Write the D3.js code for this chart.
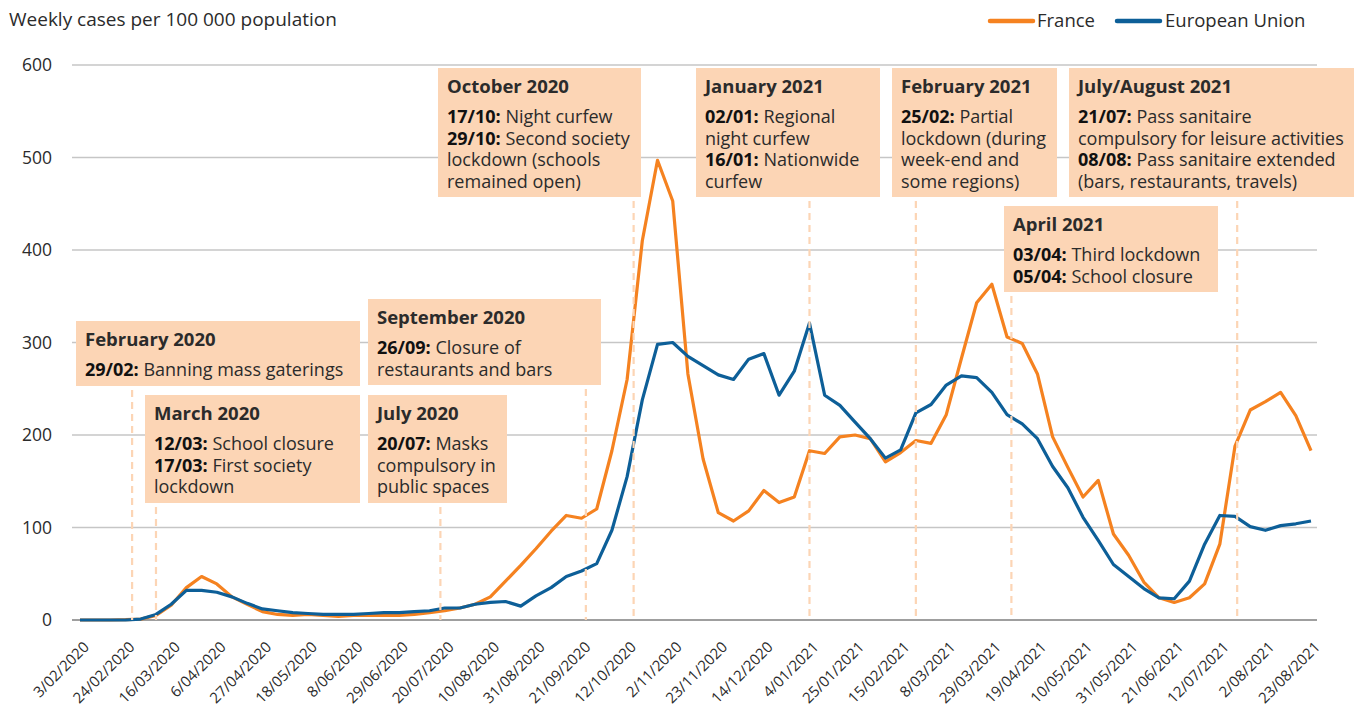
<!DOCTYPE html>
<html>
<head>
<meta charset="utf-8">
<script src="https://cdn.jsdelivr.net/npm/d3@7"></script>
<style>
  html, body { margin: 0; padding: 0; background: #fff; }
  svg { display: block; }
  text { font-family: "Open Sans", "Noto Sans", sans-serif; fill: #2b2b2b; }
</style>
</head>
<body>
<svg id="chart" width="1358" height="715"></svg>
<script>
// ---------------- DATA ----------------
const tickLabels = ["3/02/2020","24/02/2020","16/03/2020","6/04/2020","27/04/2020","18/05/2020",
  "8/06/2020","29/06/2020","20/07/2020","10/08/2020","31/08/2020","21/09/2020","12/10/2020",
  "2/11/2020","23/11/2020","14/12/2020","4/01/2021","25/01/2021","15/02/2021","8/03/2021",
  "29/03/2021","19/04/2021","10/05/2021","31/05/2021","21/06/2021","12/07/2021","2/08/2021","23/08/2021"];

const france = [0,0,0,0.3,1,5,16,35,47,39,25,17,9,6,5,6,5,4,5,5,5,5,6,8,10,13,17,25,42,59,
  77,96,113,110,120,183,260,410,497,453,266,174,116,107,118,140,127,133,183,180,198,200,196,171,181,194,
  191,222,283,343,363,306,299,266,198,165,133,151,93,70,41,24,19,24,39,82,188,227,236,246,221,183];

const eu = [0,0,0,0,1,6,17,32,32,30,25,18,12,10,8,7,6,6,6,7,8,8,9,10,13,13,17,19,20,15,
  26,35,47,53,61,97,155,238,298,300,285,275,265,260,282,288,243,269,321,243,232,214,196,175,184,224,
  233,254,264,262,246,222,212,196,166,143,111,86,60,47,34,24,23,42,82,113,112,101,97,102,104,107];

const yTicks = [0,100,200,300,400,500,600];
const seriesNames = ["France","European Union"];
const seriesColors = ["#f58220","#0d5f98"];

// positions of the dashed event markers
const eventLineDates = ["2020-02-27","2020-03-09","2020-07-18","2020-09-23","2020-10-15",
  "2021-01-04","2021-02-22","2021-04-07","2021-07-20"];

// annotation texts
const annotations = [
  {title:"February 2020", lines:[["29/02:"," Banning mass gaterings"]]},
  {title:"March 2020", lines:[["12/03:"," School closure"],["17/03:"," First society"],["","lockdown"]]},
  {title:"July 2020", lines:[["20/07:"," Masks"],["","compulsory in"],["","public spaces"]]},
  {title:"September 2020", lines:[["26/09:"," Closure of"],["","restaurants and bars"]]},
  {title:"October 2020", lines:[["17/10:"," Night curfew"],["29/10:"," Second society"],["","lockdown (schools"],["","remained open)"]]},
  {title:"January 2021", lines:[["02/01:"," Regional"],["","night curfew"],["16/01:"," Nationwide"],["","curfew"]]},
  {title:"February 2021", lines:[["25/02:"," Partial"],["","lockdown (during"],["","week-end and"],["","some regions)"]]},
  {title:"April 2021", lines:[["03/04:"," Third lockdown"],["05/04:"," School closure"]]},
  {title:"July/August 2021", lines:[["21/07:"," Pass sanitaire"],["","compulsory for leisure activities"],["08/08:"," Pass sanitaire extended"],["","(bars, restaurants, travels)"]]}
];

// ---------------- LAYOUT ----------------
const boxLayout = [
  [76,321,360,386],
  [145,395,360,503],
  [368,395,507,503],
  [368,299,601,385],
  [438,68,641,197],
  [696,68,880,197],
  [892,68,1057,197],
  [1004,206,1218,292],
  [1069,68,1354,197]
];
// lower edge of box each dashed line starts from
const lineTops = [386,503,503,385,197,197,197,292,197];

const svg = d3.select("#chart");
const parseTick = d3.utcParse("%d/%m/%Y");
const parseISO = d3.utcParse("%Y-%m-%d");
const start = parseTick(tickLabels[0]);
const end = parseTick(tickLabels[tickLabels.length-1]);
const weeks = d3.utcMonday.range(start, d3.utcDay.offset(end,1));

const x = d3.scaleUtc().domain([start,end]).range([80,1311]);
const y = d3.scaleLinear().domain([0,600]).range([620,65]);

// gridlines
svg.append("g").selectAll("line").data(yTicks.filter(d=>d>0)).join("line")
  .attr("x1",72).attr("x2",1317)
  .attr("y1",d=>y(d)).attr("y2",d=>y(d))
  .attr("stroke","#c6c6c6").attr("stroke-width",1.5);
svg.append("line").attr("x1",72).attr("x2",1317).attr("y1",y(0)).attr("y2",y(0))
  .attr("stroke","#7f7f7f").attr("stroke-width",1.5);

// y labels
svg.append("g").selectAll("text").data(yTicks).join("text")
  .attr("x",52).attr("y",d=>y(d)+6).attr("text-anchor","end")
  .attr("font-size",17.5).text(d=>d);

// y title
svg.append("text").attr("x",9).attr("y",26).attr("font-size",19).text("Weekly cases per 100 000 population");

// x tick labels
svg.append("g").selectAll("text").data(tickLabels).join("text")
  .attr("transform",d=>`translate(${x(parseTick(d))+10},648) rotate(-45)`)
  .attr("text-anchor","end").attr("font-size",15).text(d=>d);

// series lines
const line = d3.line().x((d,i)=>x(weeks[i])).y(d=>y(d));
[france, eu].forEach((s,k)=>{
  svg.append("path").datum(s).attr("d",line).attr("fill","none")
    .attr("stroke",seriesColors[k]).attr("stroke-width",3.2)
    .attr("stroke-linejoin","round");
});

// event lines
svg.append("g").selectAll("line").data(eventLineDates).join("line")
  .attr("x1",d=>x(parseISO(d))).attr("x2",d=>x(parseISO(d)))
  .attr("y1",(d,i)=>lineTops[i]+4).attr("y2",y(0))
  .attr("stroke","#fcd5b5").attr("stroke-width",2.2).attr("stroke-dasharray","7,5");

// annotation boxes
annotations.forEach((a,i)=>{
  const [x0,y0,x1,y1] = boxLayout[i];
  const g = svg.append("g");
  g.append("rect").attr("x",x0).attr("y",y0).attr("width",x1-x0).attr("height",y1-y0).attr("fill","#fcd5b5");
  g.append("text").attr("x",x0+9).attr("y",y0+25).attr("font-size",18.5).attr("font-weight","bold")
    .attr("fill","#111").text(a.title);
  a.lines.forEach((ln,j)=>{
    const t = g.append("text").attr("x",x0+9).attr("y",y0+55+j*21.7).attr("font-size",18)
      .attr("xml:space","preserve").style("white-space","pre");
    if (ln[0]) t.append("tspan").attr("font-weight","bold").attr("fill","#111").text(ln[0]);
    t.append("tspan").text(ln[1]);
  });
});

// legend
const legendPos = [[990,1037],[1117,1165]];
seriesNames.forEach((n,k)=>{
  svg.append("line").attr("x1",legendPos[k][0]).attr("x2",legendPos[k][0]+43)
    .attr("y1",21).attr("y2",21).attr("stroke",seriesColors[k]).attr("stroke-width",4.5)
    .attr("stroke-linecap","round");
  svg.append("text").attr("x",legendPos[k][1]).attr("y",27).attr("font-size",18.5).text(n);
});
</script>
</body>
</html>
